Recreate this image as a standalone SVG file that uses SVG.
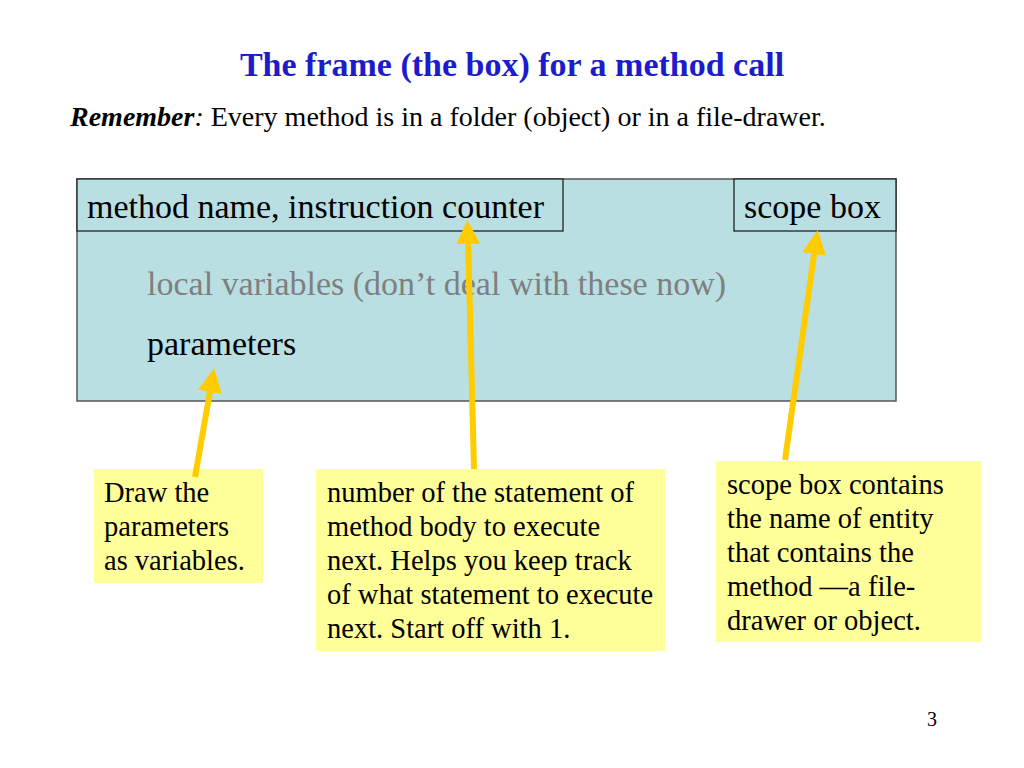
<svg xmlns="http://www.w3.org/2000/svg" width="1024" height="768" viewBox="0 0 1024 768">
<defs>
<marker id="ah" markerWidth="4" markerHeight="4" refX="1" refY="2" orient="auto" markerUnits="strokeWidth">
<path d="M0,0 L4,2 L0,4 Z" fill="#ffcc00"/>
</marker>
<style>
text{font-family:"Liberation Serif","Times New Roman",serif;}
.big{font-size:34px;fill:#000;}
.note{font-size:28.5px;fill:#000;}
.frame{fill:#b9dfe3;stroke:#555;stroke-width:1.5;}
.sub{fill:#b9dfe3;stroke:#222;stroke-width:1.3;}
.yel{fill:#ffff99;}
.arr{stroke:#ffcc00;stroke-width:6;fill:none;marker-end:url(#ah);}
</style>
</defs>
<rect width="1024" height="768" fill="#fff"/>
<text x="512" y="76" text-anchor="middle" font-size="34" font-weight="bold" fill="#1c1ccc">The frame (the box) for a method call</text>
<text x="70" y="126" font-size="28"><tspan font-weight="bold" font-style="italic">Remember</tspan><tspan font-style="italic">:</tspan> Every method is in a folder (object) or in a file-drawer.</text>
<g id="frame">
<rect class="frame" x="77" y="179" width="819" height="222"/>
<text class="big" x="147" y="295" style="fill:#7f7f7f">local variables (don’t deal with these now)</text>
<text class="big" x="147" y="355">parameters</text>
</g>
<g id="method-name">
<rect class="sub" x="77" y="179" width="486" height="52"/>
<text class="big" x="87" y="218">method name, instruction counter</text>
</g>
<g id="scope-box">
<rect class="sub" x="734" y="179" width="162" height="52"/>
<text class="big" x="744" y="218">scope box</text>
</g>
<g id="note-params">
<rect class="yel" x="94" y="469" width="169" height="114"/>
<text class="note" x="104" y="502">Draw the</text>
<text class="note" x="104" y="536">parameters</text>
<text class="note" x="104" y="570">as variables.</text>
</g>
<g id="note-counter">
<rect class="yel" x="316" y="469" width="349" height="182"/>
<text class="note" x="327" y="502">number of the statement of</text>
<text class="note" x="327" y="536">method body to execute</text>
<text class="note" x="327" y="570">next. Helps you keep track</text>
<text class="note" x="327" y="604">of what statement to execute</text>
<text class="note" x="327" y="638">next. Start off with 1.</text>
</g>
<g id="note-scope">
<rect class="yel" x="716" y="461" width="265" height="181"/>
<text class="note" x="727" y="494">scope box contains</text>
<text class="note" x="727" y="528">the name of entity</text>
<text class="note" x="727" y="562">that contains the</text>
<text class="note" x="727" y="596">method —a file-</text>
<text class="note" x="727" y="630">drawer or object.</text>
</g>
<g id="connectors">
<line class="arr" x1="195" y1="477" x2="211" y2="386"/>
<line class="arr" x1="474" y1="469" x2="468" y2="238"/>
<line class="arr" x1="785" y1="460" x2="815" y2="248"/>
</g>
<text x="932" y="726" font-size="20" text-anchor="middle">3</text>
</svg>
